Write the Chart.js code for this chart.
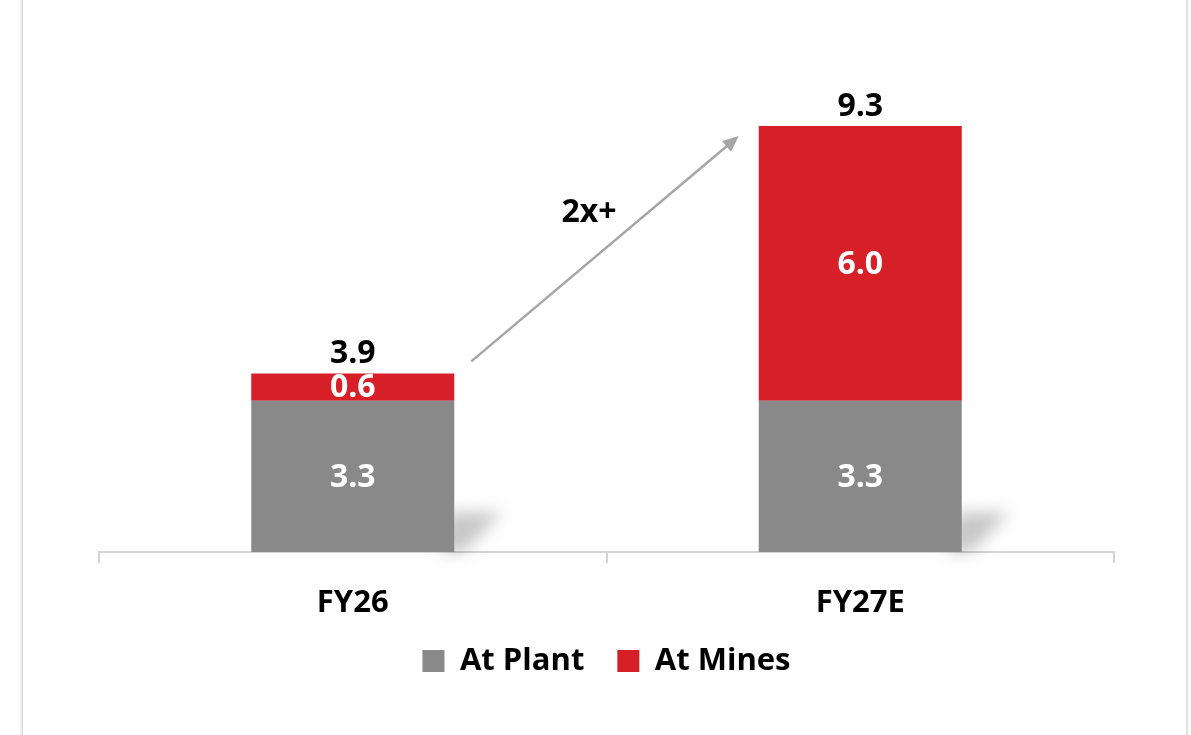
<!DOCTYPE html>
<html>
<head>
<meta charset="utf-8">
<script src="https://cdn.jsdelivr.net/npm/chart.js@4.4.1/dist/chart.umd.min.js"></script>
<style>
  html, body { margin: 0; padding: 0; background: #fff; overflow: hidden; }
  .card {
    position: absolute; left: 23px; top: -20px; width: 1163px; height: 780px;
    background: #fff; box-shadow: 0 0 4px rgba(0,0,0,0.35);
  }
  .wrap { position: absolute; left: 0; top: 0; width: 1191px; height: 735px; }
</style>
</head>
<body>
<div class="card"></div>
<div class="wrap"><canvas id="chart" width="1191" height="735"></canvas></div>
<script>
const categories = ['FY26', 'FY27E'];
const atPlant = [3.3, 3.3];
const atMines = [0.6, 6.0];
const totals = [3.9, 9.3];
const growthLabel = '2x+';

const GRAY = '#898989';
const RED = '#d71f27';
const FONT = "'Open Sans', sans-serif";

// soft cast shadow behind each stack
const shadowPlugin = {
  id: 'barShadow',
  beforeDatasetsDraw(chart) {
    const ctx = chart.ctx;
    const meta = chart.getDatasetMeta(0);
    ctx.save();
    ctx.filter = 'blur(8px)';
    ctx.fillStyle = 'rgba(0,0,0,0.22)';
    meta.data.forEach(bar => {
      const right = bar.x + bar.width / 2;
      const base = bar.base;
      ctx.beginPath();
      ctx.moveTo(right - 15, base);
      ctx.lineTo(right - 5, base - 40);
      ctx.lineTo(right + 48, base - 40);
      ctx.lineTo(right + 10, base);
      ctx.closePath();
      ctx.fill();
    });
    ctx.restore();
  }
};

// value labels + totals + growth arrow
const labelPlugin = {
  id: 'labels',
  afterDatasetsDraw(chart) {
    const ctx = chart.ctx;
    ctx.save();
    ctx.font = `bold 32px ${FONT}`;
    ctx.textAlign = 'center';
    ctx.textBaseline = 'middle';
    chart.data.datasets.forEach((ds, di) => {
      chart.getDatasetMeta(di).data.forEach((bar, i) => {
        ctx.fillStyle = '#fff';
        ctx.fillText(ds.data[i].toFixed(1), bar.x, (bar.y + bar.base) / 2 + 1);
      });
    });
    const top = chart.getDatasetMeta(1).data;
    top.forEach((bar, i) => {
      ctx.fillStyle = '#000';
      ctx.fillText(totals[i].toFixed(1), bar.x, bar.y - 19);
    });

    // arrow from first stack to second
    const b0 = top[0], b1 = top[1];
    const x0 = b0.x + b0.width / 2 + 17, y0 = b0.y - 12;
    const x1 = b1.x - b1.width / 2 - 20, y1 = b1.y + 10;
    const ang = Math.atan2(y1 - y0, x1 - x0);
    ctx.strokeStyle = '#a6a6a6';
    ctx.fillStyle = '#a6a6a6';
    ctx.lineWidth = 2.5;
    ctx.beginPath();
    ctx.moveTo(x0, y0);
    ctx.lineTo(x1 - 10 * Math.cos(ang), y1 - 10 * Math.sin(ang));
    ctx.stroke();
    ctx.beginPath();
    ctx.moveTo(x1, y1);
    ctx.lineTo(x1 - 16 * Math.cos(ang) + 7 * Math.sin(ang), y1 - 16 * Math.sin(ang) - 7 * Math.cos(ang));
    ctx.lineTo(x1 - 16 * Math.cos(ang) - 7 * Math.sin(ang), y1 - 16 * Math.sin(ang) + 7 * Math.cos(ang));
    ctx.closePath();
    ctx.fill();

    ctx.fillStyle = '#000';
    ctx.font = `bold 32px ${FONT}`;
    ctx.fillText(growthLabel, (x0 + x1) / 2 - 16, (y0 + y1) / 2 - 36);
    ctx.restore();
  }
};

new Chart(document.getElementById('chart'), {
  type: 'bar',
  data: {
    labels: categories,
    datasets: [
      { label: 'At Plant', data: atPlant, backgroundColor: GRAY, barPercentage: 0.8, categoryPercentage: 0.5 },
      { label: 'At Mines', data: atMines, backgroundColor: RED, barPercentage: 0.8, categoryPercentage: 0.5 }
    ]
  },
  options: {
    responsive: false,
    animation: false,
    layout: { padding: { left: 99, right: 77, top: 94, bottom: 48.5 } },
    plugins: {
      tooltip: { enabled: false },
      legend: {
        position: 'bottom',
        labels: {
          color: '#000',
          font: { family: FONT, size: 31, weight: 'bold' },
          boxWidth: 22, boxHeight: 22, padding: 33
        }
      }
    },
    scales: {
      x: {
        stacked: true,
        afterFit(scale) { scale.height = 60.5; },
        grid: { display: true, drawOnChartArea: false, color: '#d4d4d4', lineWidth: 2, tickLength: 11, offset: true },
        border: { display: true, color: '#d4d4d4', width: 2 },
        ticks: { color: '#000', padding: 22, font: { family: FONT, size: 31, weight: 'bold' } }
      },
      y: { stacked: true, display: false, min: 0, max: 10 }
    }
  },
  plugins: [shadowPlugin, labelPlugin]
});
</script>
</body>
</html>
